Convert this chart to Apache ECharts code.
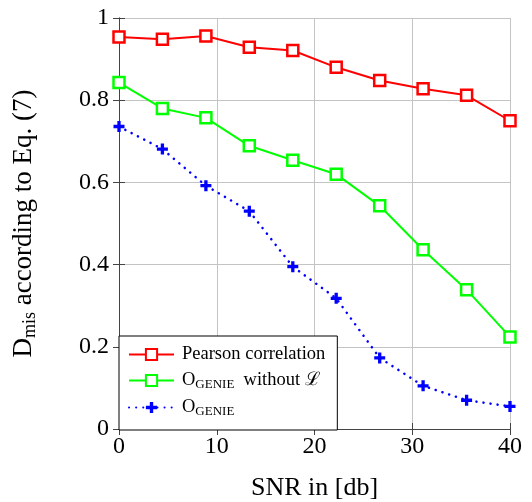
<!DOCTYPE html>
<html><head><meta charset="utf-8">
<script src="https://cdn.jsdelivr.net/npm/echarts@6/dist/echarts.min.js"></script>
<style>html,body{margin:0;padding:0;background:#fff}#c{width:532px;height:502px}</style>
</head><body><div id="c"></div>
<script>
const snr = [0, 4.44, 8.89, 13.33, 17.78, 22.22, 26.67, 31.11, 35.56, 40];
const pearson = [0.954, 0.948, 0.956, 0.929, 0.921, 0.880, 0.848, 0.828, 0.812, 0.750];
const genieNoL = [0.843, 0.780, 0.757, 0.689, 0.654, 0.620, 0.543, 0.436, 0.339, 0.224];
const genie = [0.736, 0.681, 0.592, 0.530, 0.395, 0.318, 0.173, 0.105, 0.070, 0.055];
const xTicks = [0, 10, 20, 30, 40];
const yTicks = [0, 0.2, 0.4, 0.6, 0.8, 1];
const names = ['Pearson correlation', 'O_GENIE without L', 'O_GENIE'];
const legendLabels = {
  'Pearson correlation': '{m|Pearson correlation}',
  'O_GENIE without L': '{m|O}{s|GENIE}{m|  without ℒ}',
  'O_GENIE': '{m|O}{s|GENIE}'
};
const pairs = ys => snr.map((x, i) => [x, ys[i]]);
const FONT = 'Liberation Serif';
const plus = 'path://M3.5,0H6.5V3.5H10V6.5H6.5V10H3.5V6.5H0V3.5H3.5Z';

const chart = echarts.init(document.getElementById('c'), null, {renderer: 'canvas'});
const axisLineStyle = {lineStyle: {color: '#444', width: 1}};
chart.setOption({
  animation: false,
  backgroundColor: '#fff',
  grid: {left: 119, right: 22, top: 18, bottom: 73, containLabel: false, outerBoundsMode: 'none'},
  legend: {
    data: names,
    orient: 'vertical',
    left: 119, top: 336,
    padding: [9, 12, 12, 9],
    itemGap: 7,
    itemWidth: 45, itemHeight: 14,
    backgroundColor: '#fff',
    borderColor: '#000', borderWidth: 1,
    formatter: n => legendLabels[n],
    textStyle: {
      fontFamily: FONT, color: '#000', padding: [0, 0, 0, 3],
      rich: {
        m: {fontFamily: FONT, fontSize: 18.5, lineHeight: 21, color: '#000', verticalAlign: 'middle'},
        s: {fontFamily: FONT, fontSize: 13, lineHeight: 12, color: '#000', verticalAlign: 'bottom'}
      }
    }
  },
  xAxis: [{
    type: 'value', min: 0, max: 40, interval: 10,
    name: 'SNR in [db]', nameLocation: 'middle', nameGap: 46,
    nameTextStyle: {fontFamily: FONT, fontSize: 26, color: '#000'},
    axisLine: axisLineStyle,
    axisTick: {inside: true, length: 6, lineStyle: {color: '#444'}},
    axisLabel: {fontFamily: FONT, fontSize: 24, color: '#000', margin: 6,
      formatter: v => xTicks.includes(v) ? String(v) : ''},
    splitLine: {show: true, lineStyle: {color: '#c4c4c4', width: 1}}
  }, {
    type: 'value', min: 0, max: 40, interval: 10, position: 'top',
    axisLine: axisLineStyle,
    axisTick: {inside: true, length: 6, lineStyle: {color: '#444'}},
    axisLabel: {show: false}, splitLine: {show: false}
  }],
  yAxis: [{
    type: 'value', min: 0, max: 1, interval: 0.2,
    name: '{m|D}{s|mis}{m| according to Eq. (7)}',
    nameLocation: 'middle', nameGap: 80, nameRotate: 90,
    nameTextStyle: {
      rich: {
        m: {fontFamily: FONT, fontSize: 27, lineHeight: 30, color: '#000', verticalAlign: 'middle'},
        s: {fontFamily: FONT, fontSize: 18, lineHeight: 16, color: '#000', verticalAlign: 'bottom'}
      }
    },
    axisLine: {show: true, lineStyle: {color: '#444', width: 1}},
    axisTick: {show: true, inside: true, length: 6, lineStyle: {color: '#444'}},
    axisLabel: {fontFamily: FONT, fontSize: 24, color: '#000', margin: 10,
      formatter: v => { const t = yTicks.find(k => Math.abs(k - v) < 1e-9); return t === undefined ? '' : String(t); }},
    splitLine: {show: true, lineStyle: {color: '#c4c4c4', width: 1}}
  }, {
    type: 'value', min: 0, max: 1, interval: 0.2, position: 'right',
    axisLine: {show: true, lineStyle: {color: '#444', width: 1}},
    axisTick: {show: true, inside: true, length: 6, lineStyle: {color: '#444'}},
    axisLabel: {show: false}, splitLine: {show: false}
  }],
  series: [{
    name: names[2], type: 'line', data: pairs(genie), z: 3,
    symbol: plus, symbolSize: 11,
    itemStyle: {color: '#0000ff'},
    lineStyle: {color: '#0000ff', width: 2.5, type: [0.1, 7], cap: 'round'}
  }, {
    name: names[1], type: 'line', data: pairs(genieNoL), z: 4,
    symbol: 'rect', symbolSize: 11,
    itemStyle: {color: '#fff', borderColor: '#00ff00', borderWidth: 2.5},
    lineStyle: {color: '#00ff00', width: 2}
  }, {
    name: names[0], type: 'line', data: pairs(pearson), z: 5,
    symbol: 'rect', symbolSize: 11,
    itemStyle: {color: '#fff', borderColor: '#ff0000', borderWidth: 2.5},
    lineStyle: {color: '#ff0000', width: 2}
  }]
});
</script></body></html>
